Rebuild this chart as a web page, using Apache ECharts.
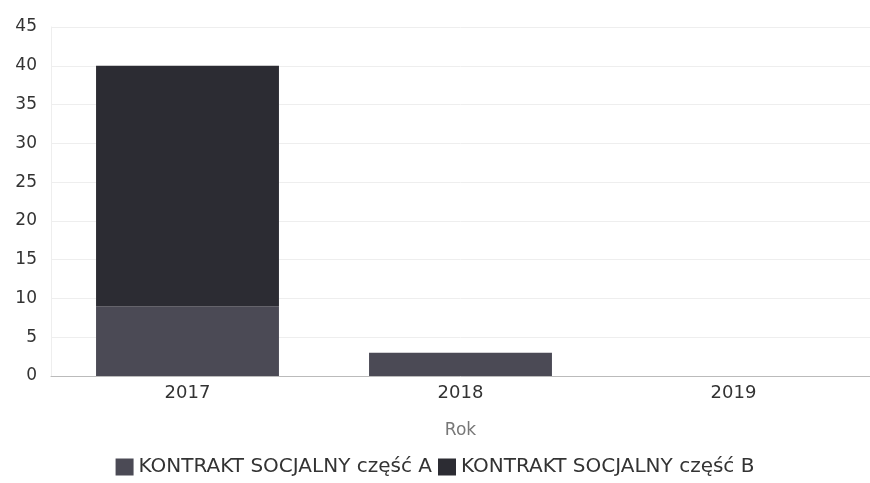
<!DOCTYPE html>
<html>
<head>
<meta charset="utf-8">
<script src="https://cdn.jsdelivr.net/npm/echarts@6/dist/echarts.min.js"></script>
<style>html,body{margin:0;padding:0;background:#fff}#c{width:870px;height:483px}</style>
</head>
<body>
<div id="c"></div>
<script>
var categories = ['2017', '2018', '2019'];
var seriesA = [9, 3, 0];
var seriesB = [31, 0, 0];
var seriesNames = ['KONTRAKT SOCJALNY część A', 'KONTRAKT SOCJALNY część B'];
var xTitle = 'Rok';

var chart = echarts.init(document.getElementById('c'));
chart.setOption({
  animation: false,
  backgroundColor: '#fff',
  textStyle: { fontFamily: 'DejaVu Sans' },
  grid: { left: 51, right: 0, top: 27, bottom: 107 },
  legend: {
    bottom: 1, left: 'center',
    itemWidth: 18, itemHeight: 17, itemGap: 6,
    icon: 'rect',
    textStyle: { fontSize: 20, color: '#333', fontFamily: 'DejaVu Sans', padding: [0, 0, 0, 0] },
    data: seriesNames
  },
  xAxis: {
    type: 'category', data: categories,
    name: xTitle, nameLocation: 'middle', nameGap: 46,
    nameTextStyle: { fontSize: 17, color: '#777', fontFamily: 'DejaVu Sans' },
    axisLine: { lineStyle: { color: '#bbb' } },
    axisTick: { show: false },
    axisLabel: { fontSize: 18, color: '#333', margin: 8, fontFamily: 'DejaVu Sans' }
  },
  yAxis: {
    type: 'value', min: 0, max: 45, interval: 5,
    axisLabel: { fontSize: 17, color: '#333', margin: 14, fontFamily: 'DejaVu Sans' },
    splitLine: { lineStyle: { color: '#eee' } },
    axisLine: { show: true, lineStyle: { color: '#eee' } }, axisTick: { show: false }
  },
  series: [
    { name: seriesNames[0], type: 'bar', stack: 's', data: seriesA, barWidth: '67%', itemStyle: { color: '#4b4a55' } },
    { name: seriesNames[1], type: 'bar', stack: 's', data: seriesB, barWidth: '67%', itemStyle: { color: '#2c2c33' } }
  ]
});
</script>
</body>
</html>
